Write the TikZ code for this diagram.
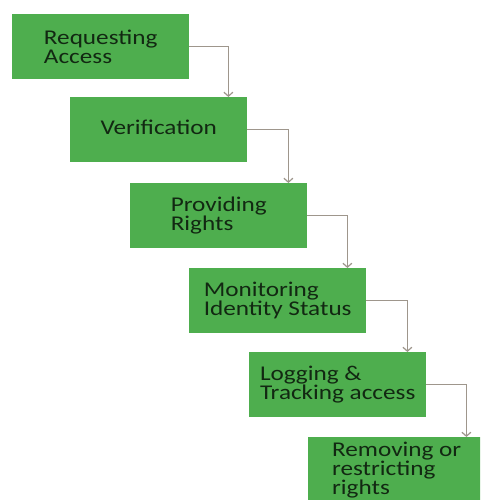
\documentclass[tikz,border=0pt]{standalone}
\usepackage{fontspec}
\setmainfont{Carlito}[FakeStretch = 1.2]
\usetikzlibrary{arrows.meta}

\definecolor{stepgreen}{RGB}{78,174,78}
\definecolor{steptext}{RGB}{18,40,18}
\definecolor{linkgrey}{RGB}{158,150,140}

\begin{document}
\begin{tikzpicture}[
  x = 1pt, y = -1pt,
  every node/.style = {fill = stepgreen, text = steptext, anchor = north west,
                       minimum width = 177pt, minimum height = 65pt, inner sep = 0pt,
                       align = left, font = \fontsize{21}{19}\selectfont},
  link/.style = {draw = linkgrey, line width = 1.2pt,
                 -{Straight Barb[length = 4pt, width = 9pt]}},
  ]
  \useasboundingbox (0,0) rectangle (480,500);
  \clip (0,0) rectangle (480,500);
  \node (request) at (12,14)    {Requesting\\Access};
  \node (verify)  at (70,97)    {Verification\strut};
  \node (rights)  at (130,183)  {Providing\\Rights};
  \node (monitor) at (189,268)  {Monitoring\\Identity Status};
  \node (logging) at (249,352)  {Logging \&\\Tracking access};
  \node (remove)  at (308,437)  {Removing or\\restricting\\rights};
  % connectors
  \draw[link] (request.east) -| ([xshift = -19pt]verify.north east);
  \draw[link] (verify.east)  -| ([xshift = -19pt]rights.north east);
  \draw[link] (rights.east)  -| ([xshift = -19pt]monitor.north east);
  \draw[link] (monitor.east) -| ([xshift = -19pt]logging.north east);
  \draw[link] (logging.east) -| ([xshift = -19pt]remove.north east);
\end{tikzpicture}
\end{document}
